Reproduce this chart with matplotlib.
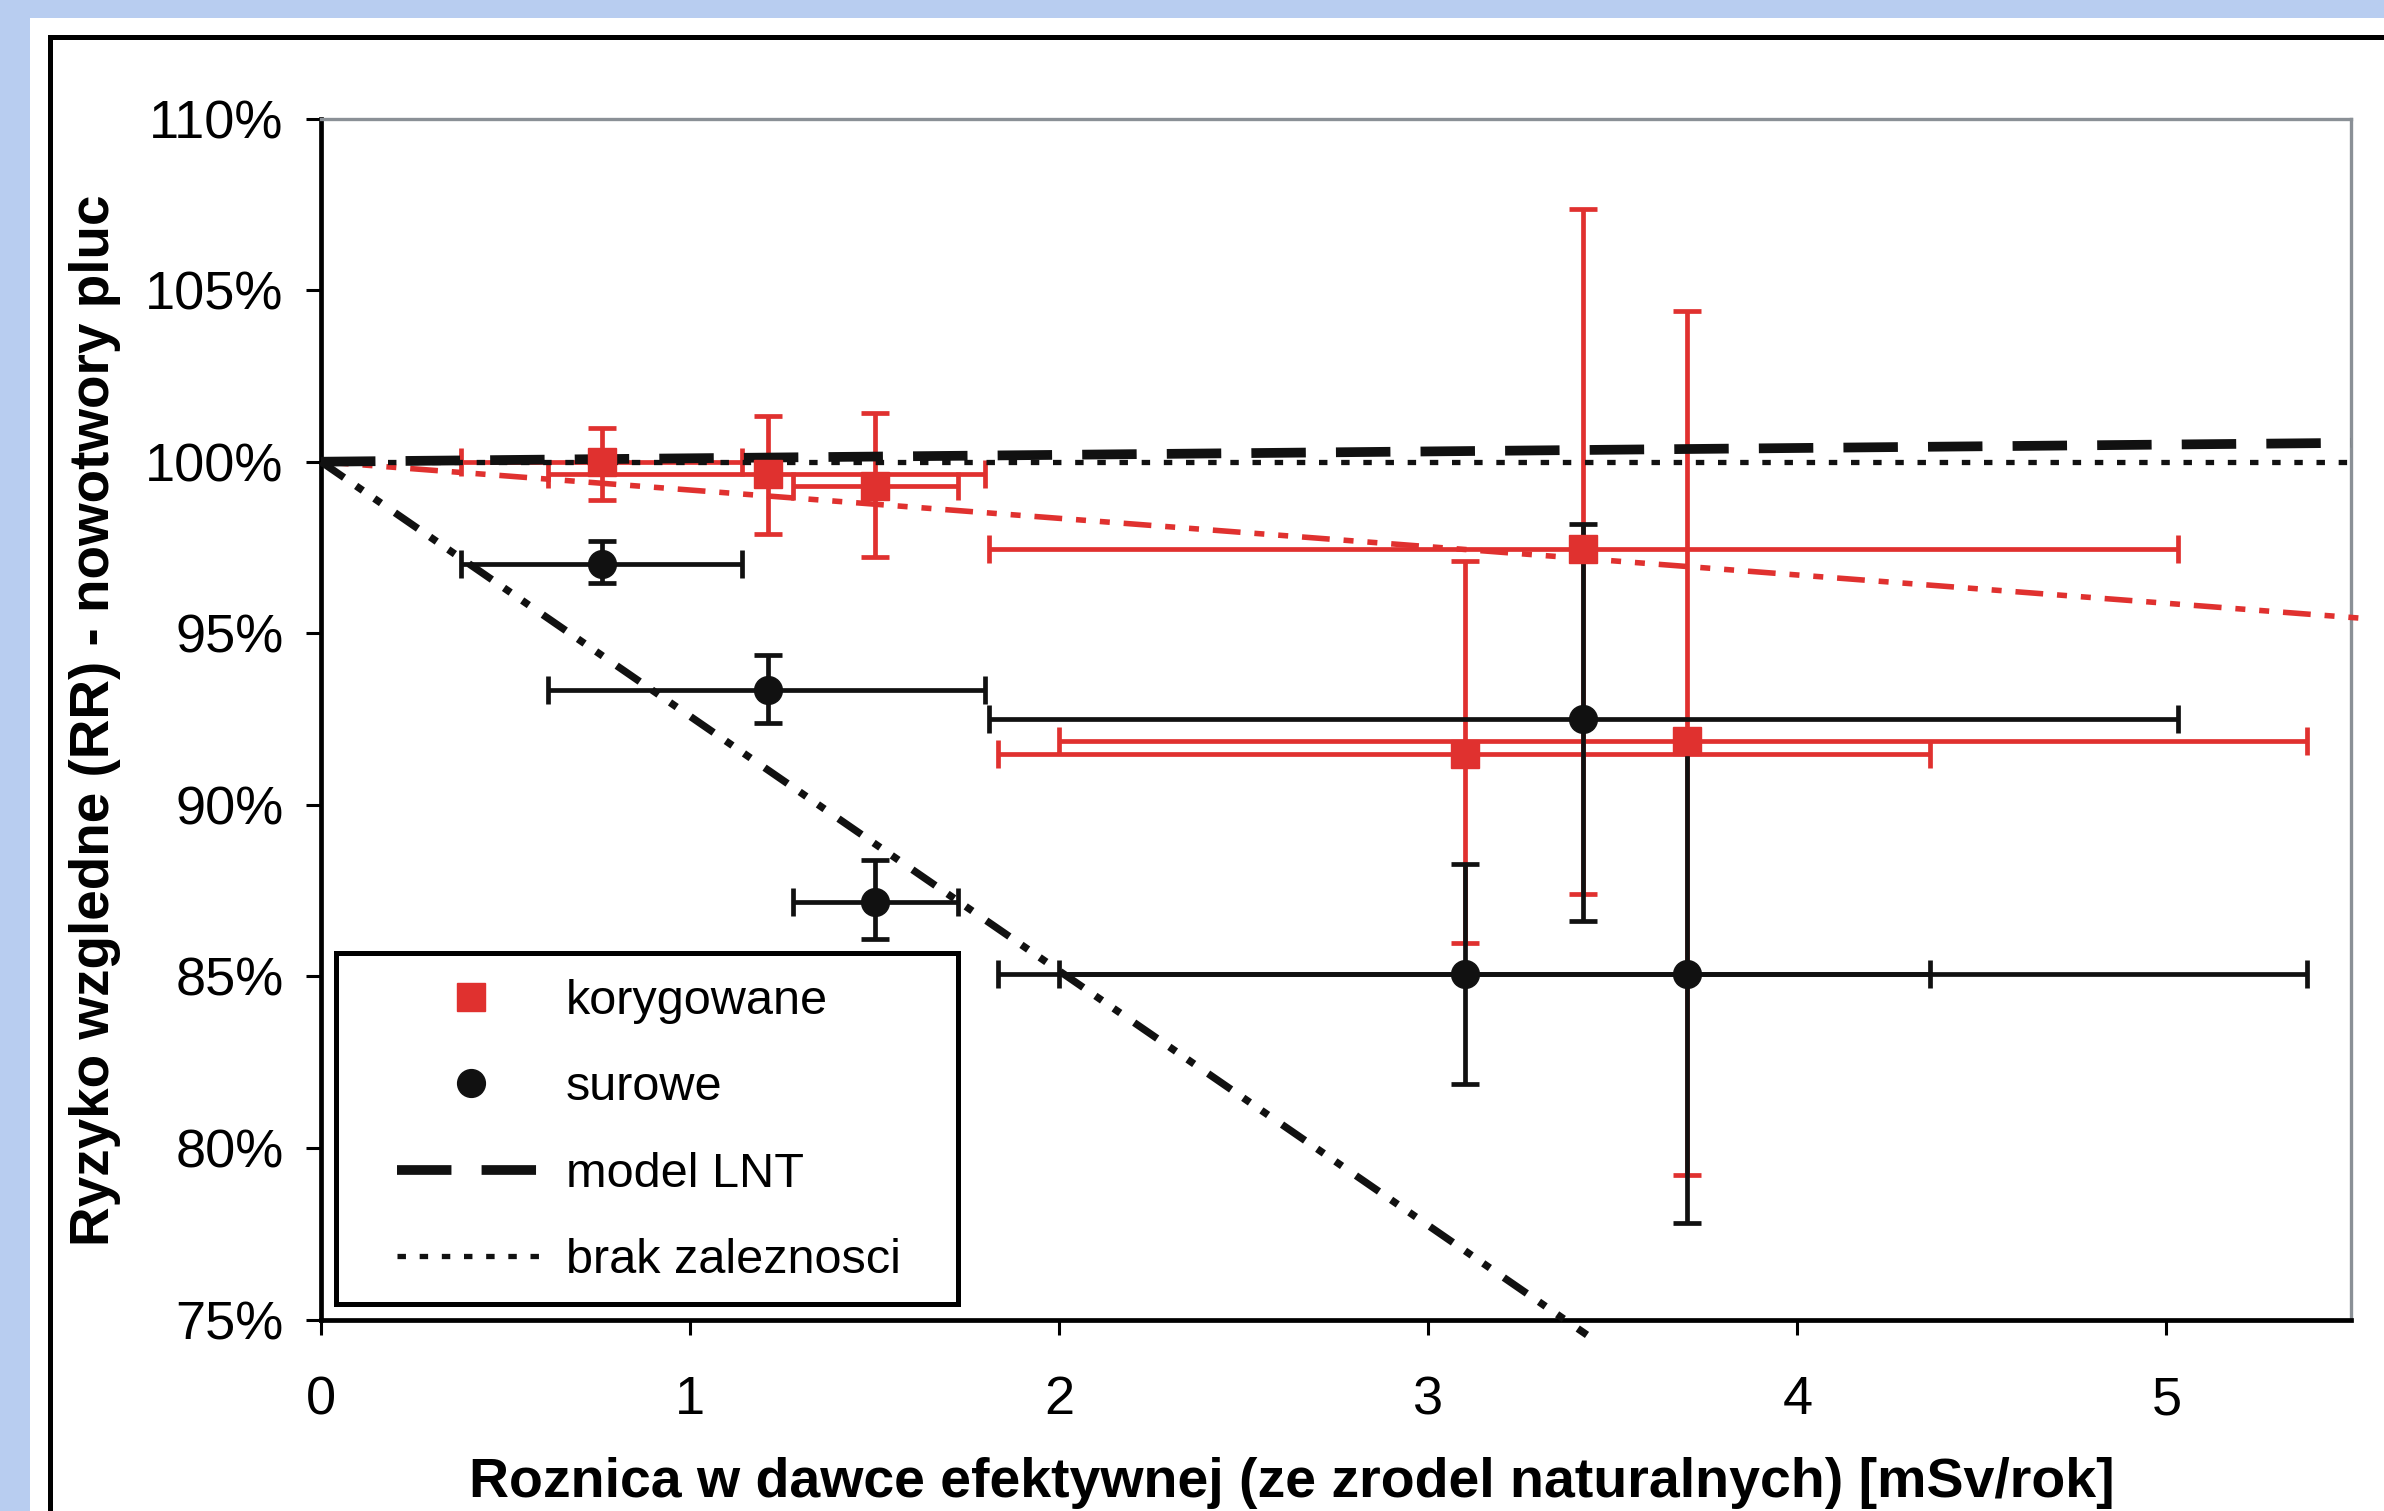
import matplotlib
matplotlib.use("Agg")
import matplotlib.pyplot as plt
from matplotlib.patches import Rectangle
from matplotlib.lines import Line2D
import numpy as np

plt.rcParams['font.family'] = ['Liberation Sans', 'DejaVu Sans']

# ---------------- data ----------------
dose = [0.76, 1.21, 1.50, 3.42, 3.10, 3.70]
dose_lo = [0.38, 0.615, 1.28, 1.81, 1.835, 2.00]
dose_hi = [1.14, 1.80, 1.725, 5.03, 4.36, 5.38]

rr_corr = [100.0, 99.65, 99.28, 97.45, 91.48, 91.86]
rr_corr_lo = [98.87, 97.89, 97.21, 87.40, 85.98, 79.22]
rr_corr_hi = [100.98, 101.32, 101.42, 107.37, 97.11, 104.38]

rr_raw = [97.03, 93.35, 87.18, 92.50, 85.08, 85.08]
rr_raw_lo = [96.46, 92.38, 86.09, 86.62, 81.87, 77.80]
rr_raw_hi = [97.68, 94.36, 88.38, 98.19, 88.27, 91.86]

lnt_x = [0.0, 5.5]
lnt_y = [100.0, 100.55]
none_x = [0.0, 5.5]
none_y = [100.0, 100.0]
fit_corr_x = [0.0, 5.55]
fit_corr_y = [100.0, 95.42]
fit_raw_x = [0.0, 3.43]
fit_raw_y = [100.0, 74.55]

x_ticks = [0, 1, 2, 3, 4, 5]
y_ticks = [75, 80, 85, 90, 95, 100, 105, 110]
y_ticklabels = ["75%", "80%", "85%", "90%", "95%", "100%", "105%", "110%"]

legend_labels = ["korygowane", "surowe", "model LNT", "brak zaleznosci"]
xlabel = "Roznica w dawce efektywnej (ze zrodel naturalnych) [mSv/rok]"
ylabel = "Ryzyko wzgledne (RR) - nowotwory pluc"

RED = "#e0312f"
BLK = "#111111"

W, H = 2384, 1511
fig = plt.figure(figsize=(W / 100, H / 100), dpi=100, facecolor="#b8cdf0")

# white panel and outer black frame
fig.add_artist(Rectangle((30 / W, 0), 1, 1 - 18 / H, transform=fig.transFigure,
                         facecolor="white", edgecolor="none", zorder=-10))
fig.add_artist(Rectangle((49.5 / W, -0.2), 2, 1.2 - 37 / H, transform=fig.transFigure,
                         facecolor="none", edgecolor="black", lw=3.6, zorder=-9))

ax = fig.add_axes([321 / W, 1 - 1319.5 / H, (2351 - 321) / W, (1319.5 - 118.6) / H])
ax.set_facecolor("white")

def errs(c, lo, hi):
    c = np.asarray(c); return [c - np.asarray(lo), np.asarray(hi) - c]

ekw = dict(fmt="none", elinewidth=3.4, capsize=10, capthick=3.4)
ax.errorbar(dose, rr_corr, xerr=errs(dose, dose_lo, dose_hi),
            yerr=errs(rr_corr, rr_corr_lo, rr_corr_hi), ecolor=RED, zorder=2, **ekw)
ax.errorbar(dose, rr_raw, xerr=errs(dose, dose_lo, dose_hi),
            yerr=errs(rr_raw, rr_raw_lo, rr_raw_hi), ecolor=BLK, zorder=3, **ekw)

# trend / model lines
ax.plot(fit_corr_x, fit_corr_y, color=RED, lw=4.0, dashes=(5.0, 2.5, 1.8, 2.5, 1.8, 2.5),
        zorder=4, clip_on=False)
ax.plot(fit_raw_x, fit_raw_y, color=BLK, lw=5.3, dashes=(3.8, 2.0, 1.1, 1.9, 1.1, 2.3),
        zorder=4, clip_on=False)
ax.plot(none_x, none_y, color=BLK, lw=3.8, dashes=(1.6, 2.6), zorder=4)
ax.plot(lnt_x, lnt_y, color=BLK, lw=7.0, dashes=(5.6, 3.1), zorder=4.5, clip_on=False)

# markers
ax.plot(dose, rr_corr, ls="none", marker="s", ms=20, color=RED, mec=RED, zorder=6)
ax.plot(dose, rr_raw, ls="none", marker="o", ms=20, color=BLK, mec=BLK, zorder=6)

ax.set_xlim(0, 5.5)
ax.set_ylim(75, 110)
ax.set_xticks(x_ticks)
ax.set_xticklabels([str(t) for t in x_ticks])
ax.set_yticks(y_ticks)
ax.set_yticklabels(y_ticklabels)

for s in ["left", "bottom"]:
    ax.spines[s].set_color("black"); ax.spines[s].set_linewidth(3.4)
for s in ["top", "right"]:
    ax.spines[s].set_color("#8a9096"); ax.spines[s].set_linewidth(2.4)
ax.tick_params(axis="both", direction="out", length=11, width=2.2, colors="black",
               labelsize=39)
ax.tick_params(axis="y", pad=16)
ax.tick_params(axis="x", pad=29)

fig.text(95 / W, 1 - 720 / H, ylabel, rotation=90, ha="center", va="center",
         fontsize=39.5, fontweight="bold")
fig.text(1291.5 / W, 1 - 1497 / H, xlabel, ha="center", va="baseline",
         fontsize=40, fontweight="bold")

# legend
ax.add_artist(Rectangle((336 / W, 1 - 1304 / H), 622.5 / W, 351 / H, transform=fig.transFigure,
                        facecolor="white", edgecolor="black", lw=3.6, zorder=9, clip_on=False))
handles = [
    Line2D([], [], ls="none", marker="s", ms=20, color=RED),
    Line2D([], [], ls="none", marker="o", ms=20, color=BLK),
    Line2D([], [], color=BLK, lw=7.0, dashes=(5.6, 3.1)),
    Line2D([], [], color=BLK, lw=3.8, dashes=(1.6, 2.6)),
]
leg = ax.legend(handles, legend_labels, loc="upper left",
                bbox_to_anchor=(397 / W, 1 - 979 / H), bbox_transform=fig.transFigure,
                frameon=False, fontsize=35, borderpad=0, borderaxespad=0,
                handlelength=3.05, handletextpad=0.42, labelspacing=0.85)
leg.set_zorder(10)

fig.savefig("out.png", dpi=100, facecolor=fig.get_facecolor())
